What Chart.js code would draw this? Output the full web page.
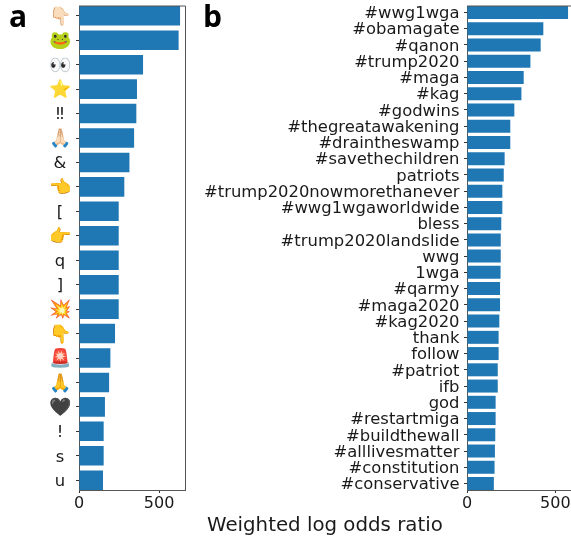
<!DOCTYPE html>
<html>
<head>
<meta charset="utf-8">
<script src="https://cdn.jsdelivr.net/npm/chart.js@4"></script>
<style>
html, body { margin: 0; padding: 0; background: #fff; overflow: hidden; width: 571px; height: 539px; }
canvas { position: absolute; top: 0; }
#chartA { left: 0; }
#chartB { left: 200px; }
.panel { position: absolute; font: bold 30px "Open Sans", sans-serif; color: #000; }
#xtitle { position: absolute; left: 207px; top: 513px; font: 19.8px "DejaVu Sans"; color: #1a1a1a; white-space: nowrap; }
</style>
</head>
<body>
<canvas id="chartA" width="190" height="520" style="width:190px;height:520px"></canvas>
<canvas id="chartB" width="375" height="520" style="width:375px;height:520px"></canvas>
<div class="panel" style="left:9px;top:-5px">a</div>
<div class="panel" style="left:203px;top:-5px">b</div>
<div id="xtitle">Weighted log odds ratio</div>
<script>
const emojiLabels = ["👇🏻", "🐸", "👀", "⭐", "‼", "🙏🏻", "&", "👈", "[", "👉", "q", "]", "💥", "👇", "🚨", "🙏", "🖤", "!", "s", "u"];
const emojiValues = [631, 622, 400, 362, 358, 344, 315, 283, 248, 248, 248, 248, 248, 225, 196, 188, 162, 154, 154, 150];
const hashLabels = ["#wwg1wga", "#obamagate", "#qanon", "#trump2020", "#maga", "#kag", "#godwins", "#thegreatawakening", "#draintheswamp", "#savethechildren", "patriots", "#trump2020nowmorethanever", "#wwg1wgaworldwide", "bless", "#trump2020landslide", "wwg", "1wga", "#qarmy", "#maga2020", "#kag2020", "thank", "follow", "#patriot", "ifb", "god", "#restartmiga", "#buildthewall", "#alllivesmatter", "#constitution", "#conservative"];
const hashValues = [572, 432, 417, 359, 321, 308, 268, 245, 245, 213, 208, 200, 200, 194, 191, 191, 190, 187, 187, 183, 179, 179, 174, 174, 162, 162, 160, 158, 156, 152];
const textTicks = ["‼", "&", "[", "q", "]", "!", "s", "u"];

// top and right spines, and nudge y labels down a bit to sit like the original
const frame = {
    id: 'frame',
    beforeDraw(chart) {
        chart.scales.y.getLabelItems().forEach(item => { item.options.translation[1] += 1.5; });
    },
    afterDraw(chart) {
        const { ctx, chartArea: a } = chart;
        ctx.save();
        ctx.strokeStyle = '#555';
        ctx.lineWidth = 1;
        ctx.beginPath();
        ctx.moveTo(a.left, a.top);
        ctx.lineTo(a.right, a.top);
        ctx.lineTo(a.right, a.bottom);
        ctx.stroke();
        ctx.restore();
    }
};

function makeChart(id, labels, values, xMax, leftWidth, rightPad, tickOpts) {
    return new Chart(document.getElementById(id), {
        type: 'bar',
        data: {
            datasets: [{
                data: values.map((v, i) => ({ x: v, y: i })),
                backgroundColor: '#1f77b4',
                borderWidth: 0,
                barPercentage: 0.8,
                categoryPercentage: 1
            }]
        },
        options: {
            indexAxis: 'y',
            responsive: false,
            animation: false,
            layout: { padding: { top: 6, right: rightPad, left: 0, bottom: 0 } },
            plugins: { legend: { display: false }, tooltip: { enabled: false } },
            scales: {
                y: {
                    type: 'linear',
                    reverse: true,
                    offset: false,
                    min: -0.4,
                    max: labels.length - 0.6,
                    grid: { offset: false, drawOnChartArea: false, color: '#333', tickLength: 3 },
                    border: { color: '#555', width: 1 },
                    afterBuildTicks: s => { s.ticks = labels.map((_, i) => ({ value: i })); },
                    afterFit: s => { s.width = leftWidth; s.paddingTop = 0; s.paddingBottom = 0; },
                    ticks: Object.assign({
                        autoSkip: false,
                        padding: 4.5,
                        color: '#1a1a1a',
                        font: { family: 'DejaVu Sans', size: 16.4 },
                        callback: v => labels[v]
                    }, tickOpts)
                },
                x: {
                    type: 'linear',
                    min: 0,
                    max: xMax,
                    afterBuildTicks: s => { s.ticks = [{ value: 0 }, { value: 500 }]; },
                    afterFit: s => { s.height = 30; s.paddingLeft = 0; s.paddingRight = 0; },
                    grid: { drawOnChartArea: false, color: '#333', tickLength: 3 },
                    border: { color: '#555', width: 1 },
                    ticks: {
                        padding: 1,
                        maxRotation: 0,
                        color: '#1a1a1a',
                        font: { family: 'DejaVu Sans', size: 16 }
                    }
                }
            }
        },
        plugins: [frame]
    });
}

makeChart('chartA', emojiLabels, emojiValues, 665, 79, 4.5, {
    crossAlign: 'center',
    padding: 5,
    font: ctx => ({
        family: 'DejaVu Sans',
        size: textTicks.includes(emojiLabels[ctx.index]) ? 16.4 : 18
    })
});
makeChart('chartB', hashLabels, hashValues, 600, 267, 2, {});
</script>
</body>
</html>
